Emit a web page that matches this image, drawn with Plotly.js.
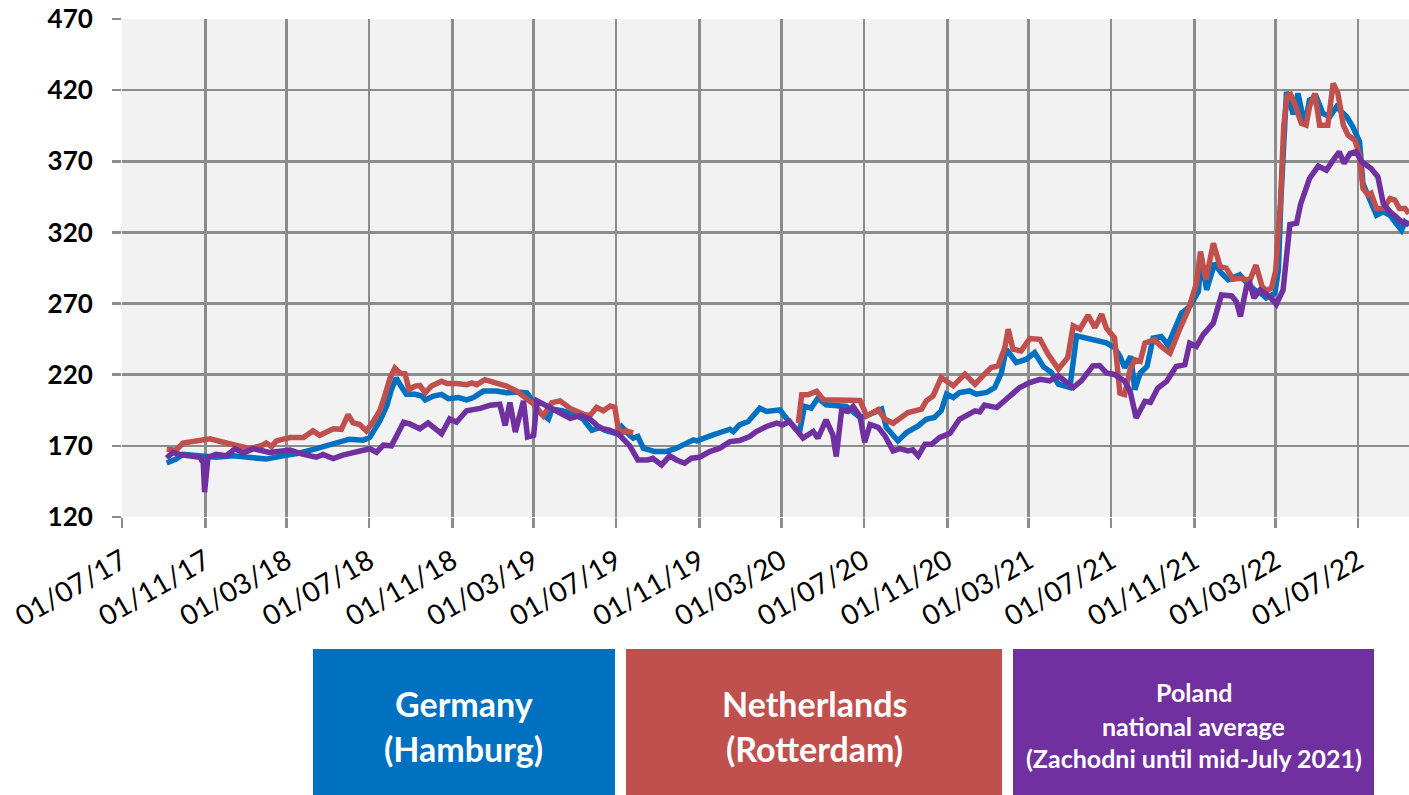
<!DOCTYPE html>
<html>
<head>
<meta charset="utf-8">
<script src="https://cdn.plot.ly/plotly-3.0.1.min.js"></script>
<style>html,body{margin:0;padding:0;background:#fff;}#chart{width:1409px;height:795px;}</style>
</head>
<body>
<div id="chart"></div>
<script>
// Germany (Hamburg)
const deDates = ['2017-09-05','2017-09-19','2017-09-29','2017-10-29','2017-11-17','2017-12-12','2018-01-06','2018-01-30','2018-02-24','2018-03-21','2018-04-14','2018-05-09','2018-06-02','2018-06-22','2018-07-02','2018-07-17','2018-07-27','2018-08-03','2018-08-10','2018-08-17','2018-08-25','2018-09-07','2018-09-17','2018-09-22','2018-10-04','2018-10-16','2018-10-26','2018-11-10','2018-11-22','2018-12-02','2018-12-17','2019-01-05','2019-01-20','2019-02-04','2019-02-19','2019-03-01','2019-03-10','2019-03-23','2019-03-28','2019-04-12','2019-04-29','2019-05-13','2019-05-26','2019-06-07','2019-06-14','2019-07-02','2019-07-09','2019-07-21','2019-07-26','2019-08-02','2019-08-10','2019-08-27','2019-09-13','2019-09-28','2019-10-13','2019-10-23','2019-10-28','2019-11-06','2019-11-21','2019-12-06','2019-12-16','2019-12-21','2019-12-30','2020-01-12','2020-01-19','2020-01-29','2020-02-08','2020-02-18','2020-02-28','2020-03-06','2020-03-21','2020-03-28','2020-04-04','2020-04-14','2020-04-24','2020-05-06','2020-05-21','2020-06-05','2020-06-25','2020-07-10','2020-07-27','2020-08-03','2020-08-20','2020-09-02','2020-09-19','2020-10-01','2020-10-13','2020-10-23','2020-10-31','2020-11-10','2020-11-19','2020-12-04','2020-12-14','2020-12-29','2021-01-10','2021-01-20','2021-01-27','2021-02-11','2021-02-26','2021-03-10','2021-03-23','2021-04-04','2021-04-14','2021-04-23','2021-05-01','2021-05-11','2021-05-28','2021-06-04','2021-06-24','2021-07-06','2021-07-14','2021-07-21','2021-07-30','2021-08-05','2021-08-13','2021-08-23','2021-09-01','2021-09-13','2021-09-23','2021-10-13','2021-10-25','2021-11-07','2021-11-11','2021-11-19','2021-12-01','2021-12-11','2021-12-21','2022-01-07','2022-01-19','2022-01-29','2022-02-08','2022-02-15','2022-02-28','2022-03-05','2022-03-09','2022-03-17','2022-03-27','2022-04-03','2022-04-13','2022-04-20','2022-04-30','2022-05-10','2022-05-20','2022-05-30','2022-06-14','2022-06-23','2022-07-03','2022-07-08','2022-07-16','2022-07-28','2022-08-07','2022-08-17','2022-08-26','2022-09-03','2022-09-08','2022-09-14'];
const deValues = [158,160.7,164,163,162,163,162,160.7,163,165,168,171,174.7,174,176,187.7,198,209.6,217.7,212,206.2,206.2,205,202.3,205,206.2,203.2,203.9,202.3,203.9,208.5,208.5,207.3,207.8,207.3,200.4,193.5,188.9,195.8,194.7,192.3,188.9,181,183,181,178.5,183.5,177.5,175.4,176.6,168.4,166,166,168.4,171.9,174.2,173.5,175.4,177.7,180.1,181.7,180,184.8,187.1,190.7,196.5,194.2,194.9,195.3,190.7,182.4,180.1,197.7,196.5,203.6,198.9,198.2,197.7,190,192.2,195.8,182.9,173.5,179.4,184,188.7,189.9,194.6,206.3,204,207.5,208.6,206.3,207.5,211,221.5,237.9,228.6,230.9,235.6,225.7,221.5,213.3,212.2,211,247.3,245.4,243.8,242.4,239,233,225,233,209.5,221.2,225.8,245.7,246.9,241,263.3,267.9,278.5,303,279.6,298.4,291.3,286.7,290.2,283.5,279.6,277,274,277.3,293.4,345,418.8,403,417.7,395.4,413,415.3,403.6,401.3,408.3,401.3,394.2,383.7,354.4,346.2,332.1,334.5,332.1,326.3,321.6,327.4,325.1];

// Netherlands (Rotterdam) - gap with no data between Aug 2019 and Mar 2020
const nlDates = ['2017-09-05','2017-09-19','2017-09-29','2017-10-14','2017-11-08','2017-12-02','2017-12-27','2018-01-06','2018-01-25','2018-01-30','2018-02-07','2018-02-14','2018-03-06','2018-03-26','2018-04-09','2018-04-19','2018-05-09','2018-05-21','2018-05-31','2018-06-07','2018-06-17','2018-06-27','2018-07-07','2018-07-17','2018-07-24','2018-08-01','2018-08-08','2018-08-16','2018-08-23','2018-08-29','2018-09-07','2018-09-14','2018-09-22','2018-10-01','2018-10-16','2018-10-24','2018-11-07','2018-11-22','2018-11-30','2018-12-07','2018-12-19','2019-01-05','2019-01-20','2019-02-04','2019-02-16','2019-03-01','2019-03-15','2019-03-28','2019-04-09','2019-04-24','2019-05-13','2019-05-23','2019-06-02','2019-06-12','2019-06-22','2019-06-29','2019-07-04','2019-07-09','2019-07-16','2019-07-26','2019-10-01','2020-03-26','2020-03-31','2020-04-09','2020-04-22','2020-05-02','2020-05-16','2020-06-15','2020-06-25','2020-07-05','2020-07-22','2020-08-01','2020-08-13','2020-09-04','2020-09-24','2020-10-01','2020-10-11','2020-10-23','2020-11-10','2020-11-27','2020-12-12','2020-12-26','2021-01-05','2021-01-15','2021-01-25','2021-01-30','2021-02-06','2021-02-18','2021-03-03','2021-03-18','2021-03-30','2021-04-14','2021-04-28','2021-05-06','2021-05-16','2021-05-28','2021-06-07','2021-06-17','2021-06-24','2021-07-06','2021-07-14','2021-07-21','2021-07-29','2021-08-05','2021-08-13','2021-08-20','2021-09-03','2021-09-13','2021-09-26','2021-10-10','2021-10-23','2021-11-04','2021-11-10','2021-11-18','2021-11-29','2021-12-09','2021-12-18','2021-12-28','2022-01-07','2022-01-22','2022-01-31','2022-02-09','2022-02-16','2022-02-23','2022-03-01','2022-03-08','2022-03-13','2022-03-18','2022-03-23','2022-03-29','2022-04-08','2022-04-15','2022-04-20','2022-04-28','2022-05-05','2022-05-17','2022-05-25','2022-06-01','2022-06-09','2022-06-16','2022-06-26','2022-07-03','2022-07-08','2022-07-16','2022-07-20','2022-07-28','2022-08-07','2022-08-17','2022-08-24','2022-08-31','2022-09-08','2022-09-14'];
const nlValues = [167.7,167,172,172.8,175,172,169.5,168,170.5,172,169.5,173.5,175.8,175.8,180.5,177.4,182,181.6,192,186.3,185,180.5,187,195,205,217.7,224.6,221,220.7,209.6,212,212.4,207.3,212,215.4,213.8,213.8,213,214.2,213,216.5,214.2,212,208.5,203.9,199.3,191.2,200.4,201.6,196.3,192.3,191.2,197,194.7,198,197,182,179,180.5,179,null,186,205.9,205.9,208.3,202.4,202.4,202.4,201.9,191,195.5,188.7,185.9,193.4,195.8,201.6,205.1,218,212.2,220.4,213.3,220.4,225,226.2,239,252,237.9,236.7,245.4,244.9,234.4,223.9,232.1,254.3,252,261.8,253.1,262.5,252.7,246,207,206,223.5,230.5,229.4,242.2,244.6,239.9,235.2,251.6,265.6,284.3,306.5,286.7,312.4,296,294.9,287.1,287.8,286.5,297,282,279,281,293,340,395,416,417,410.6,396.6,395.4,408.3,417.7,395.4,395.4,424.7,417.7,395.4,388.4,384.8,374.3,350.9,346.2,347.4,336.8,336.8,343.8,342.7,336.8,336.8,333.3];

// Poland national average (Zachodni until mid-July 2021)
const plDates = ['2017-09-05','2017-09-14','2017-09-29','2017-10-24','2017-10-29','2017-10-31','2017-11-05','2017-11-17','2017-12-02','2017-12-15','2017-12-27','2018-01-11','2018-02-04','2018-03-06','2018-03-26','2018-04-14','2018-04-24','2018-05-09','2018-05-23','2018-06-17','2018-07-02','2018-07-12','2018-07-22','2018-08-03','2018-08-21','2018-08-30','2018-09-14','2018-09-26','2018-10-06','2018-10-16','2018-10-28','2018-11-07','2018-11-22','2018-12-12','2018-12-27','2019-01-10','2019-01-18','2019-01-25','2019-02-02','2019-02-14','2019-02-20','2019-03-01','2019-03-06','2019-03-20','2019-04-04','2019-04-24','2019-05-09','2019-05-23','2019-06-07','2019-06-21','2019-07-04','2019-07-21','2019-08-02','2019-08-17','2019-08-24','2019-09-06','2019-09-18','2019-09-28','2019-10-10','2019-10-20','2019-11-01','2019-11-16','2019-12-01','2019-12-16','2019-12-30','2020-01-14','2020-01-24','2020-02-08','2020-02-23','2020-03-03','2020-03-13','2020-04-02','2020-04-17','2020-04-24','2020-05-06','2020-05-16','2020-05-21','2020-05-29','2020-06-07','2020-06-15','2020-06-25','2020-07-02','2020-07-10','2020-07-22','2020-08-01','2020-08-13','2020-08-23','2020-09-04','2020-09-11','2020-09-19','2020-09-29','2020-10-09','2020-10-21','2020-11-05','2020-11-19','2020-11-29','2020-12-12','2020-12-19','2020-12-26','2021-01-13','2021-01-27','2021-02-16','2021-03-03','2021-03-18','2021-04-01','2021-04-14','2021-05-06','2021-05-18','2021-06-04','2021-06-14','2021-06-24','2021-07-06','2021-07-21','2021-07-29','2021-08-07','2021-08-20','2021-08-28','2021-09-08','2021-09-21','2021-10-05','2021-10-18','2021-10-25','2021-11-04','2021-11-14','2021-11-29','2021-12-11','2021-12-26','2022-01-02','2022-01-08','2022-01-17','2022-01-22','2022-01-28','2022-02-06','2022-02-15','2022-02-20','2022-03-02','2022-03-12','2022-03-22','2022-04-01','2022-04-07','2022-04-20','2022-05-03','2022-05-15','2022-05-25','2022-06-03','2022-06-10','2022-06-19','2022-06-28','2022-07-06','2022-07-20','2022-07-30','2022-08-07','2022-08-17','2022-08-26','2022-09-03','2022-09-14'];
const plValues = [161.4,165.3,163.5,162,158,137.4,162,164,163,168,165,168,165.3,167,164,162,164,161,163.5,166.5,168,165.5,170.5,170,186.6,185.4,182,186.1,182,178.5,188.9,186.6,194.7,196.3,198.6,199.3,184.3,200.4,179.7,201.6,176.2,177.4,201.6,198,193.5,189.4,191.2,188.9,182.5,181,178.5,170,160.1,160.1,161.3,156.6,163,160.1,157.8,161.3,162,166,168.4,173,173.8,176.6,180.1,183.6,186,184.8,187.1,175.4,180.1,175.4,188.3,177.7,162.5,195.3,194.2,197.7,191,172.5,185,183,177,166.5,168,166.5,167.2,163,171.2,171.2,175.9,178.9,188.7,191.1,194.6,193.9,198.6,196.9,202.8,211,214.5,216.8,215.7,219.2,211,215.7,226.2,226.5,221.3,220.2,215.5,208.5,189.6,201.3,200.6,210.6,215.3,225.8,227,242.2,239.9,248.1,256.3,276.1,275.4,271.5,260.9,282,284,274,279.5,277,275,269.5,279.5,325.5,326.5,340,357.9,366.6,363.8,370.8,376.7,368.5,375.5,376.7,369.6,364.9,359.1,340.3,334.5,330.9,327.4,326.3];

// Axis ticks
const xTickDates = ['2017-07-01','2017-11-01','2018-03-01','2018-07-01','2018-11-01','2019-03-01','2019-07-01','2019-11-01','2020-03-01','2020-07-01','2020-11-01','2021-03-01','2021-07-01','2021-11-01','2022-03-01','2022-07-01'];
const xTickLabels = ['01/07/17','01/11/17','01/03/18','01/07/18','01/11/18','01/03/19','01/07/19','01/11/19','01/03/20','01/07/20','01/11/20','01/03/21','01/07/21','01/11/21','01/03/22','01/07/22'];
const yTicks = [120,170,220,270,320,370,420,470];

const seriesNames = ['Germany (Hamburg)','Netherlands (Rotterdam)','Poland national average (Zachodni until mid-July 2021)'];
const colors = ['#0070C0','#C0504D','#7030A0'];

const traces = [
  {x: deDates, y: deValues, name: seriesNames[0]},
  {x: nlDates, y: nlValues, name: seriesNames[1]},
  {x: plDates, y: plValues, name: seriesNames[2]}
].map((t,i)=>Object.assign(t,{type:'scatter',mode:'lines',connectgaps:false,line:{color:colors[i],width:5.5},hoverinfo:'x+y'}));

const gridC = '#8c8c8c';
const FONT = 'Lato, "Open Sans", sans-serif';

// legend boxes below the plot (paper coordinates)
const boxes = [
  {x0:0.1484,x1:0.3831,c:colors[0]},
  {x0:0.3916,x1:0.6838,c:colors[1]},
  {x0:0.6923,x1:0.9728,c:colors[2]}
];
const shapes = boxes.map(b=>({type:'rect',xref:'paper',yref:'paper',x0:b.x0,x1:b.x1,y0:-0.56,y1:-0.265,fillcolor:b.c,line:{width:0}}));

function ann(text,x,y,size){
  return {text:text,x:x,y:y,xref:'paper',yref:'paper',xanchor:'center',yanchor:'middle',showarrow:false,
    font:{family:FONT,size:size,color:'#ffffff',weight:'bold'}};
}
const annotations = [
  ann('Germany',0.2657,-0.3735,34),
  ann('(Hamburg)',0.2657,-0.4639,34),
  ann('Netherlands',0.5377,-0.3735,34),
  ann('(Rotterdam)',0.5377,-0.4639,34),
  ann('Poland',0.8326,-0.3514,25),
  ann('national average',0.8326,-0.4197,25),
  ann('(Zachodni until mid-July 2021)',0.8326,-0.4839,25)
];

const layout = {
  width:1409,height:795,
  margin:{l:122,r:0,t:19,b:278,pad:0},
  paper_bgcolor:'#ffffff',
  plot_bgcolor:'#f2f2f2',
  showlegend:false,
  xaxis:{
    type:'date',
    range:['2017-07-01','2022-09-14'],
    tickmode:'array',tickvals:xTickDates,ticktext:xTickLabels,
    tickangle:-30,
    ticks:'outside',ticklen:10,tickwidth:2.5,tickcolor:gridC,
    ticklabelstandoff:6,
    showgrid:true,gridcolor:gridC,gridwidth:2.5,
    showline:false,zeroline:false,
    tickfont:{family:FONT,size:28,color:'#000000'}
  },
  yaxis:{
    range:[120,470],
    tickmode:'array',tickvals:yTicks,
    ticks:'outside',ticklen:9,tickwidth:2.5,tickcolor:gridC,
    ticklabelstandoff:14,
    showgrid:true,gridcolor:gridC,gridwidth:2.5,
    showline:false,zeroline:false,
    tickfont:{family:FONT,size:26,color:'#000000',weight:'bold'}
  },
  shapes:shapes,
  annotations:annotations
};

Plotly.newPlot('chart',traces,layout,{displayModeBar:false,staticPlot:true});
</script>
</body>
</html>
